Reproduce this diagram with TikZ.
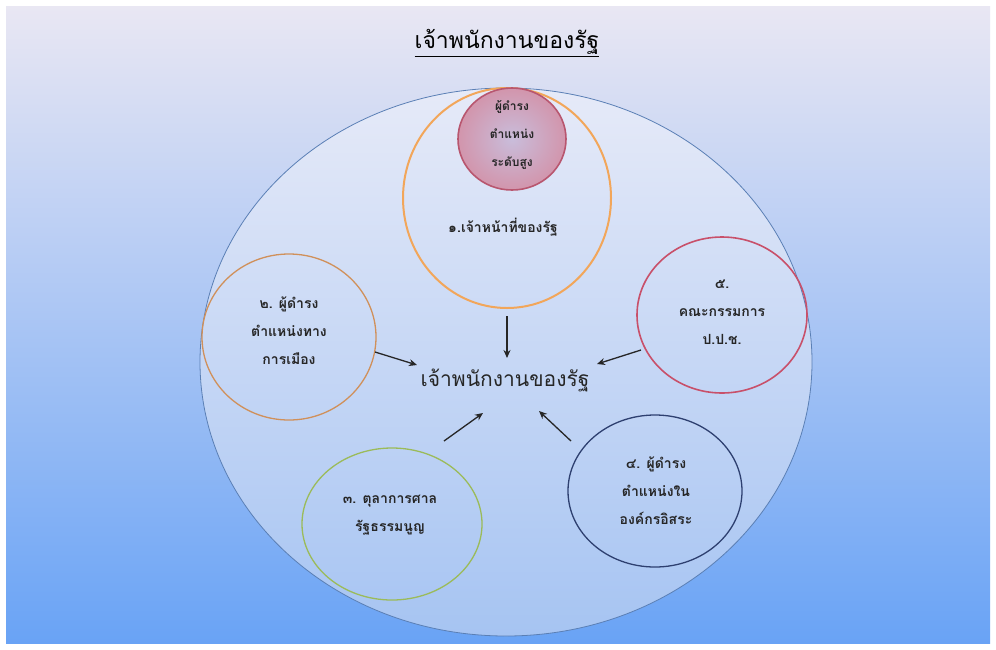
\documentclass[tikz,border=0pt]{standalone}
\usepackage{fontspec}
\newfontfamily\thai[Script=Thai]{Loma}
\usetikzlibrary{shapes.geometric,arrows.meta}
\definecolor{bgtop}{HTML}{E9E7F3}
\definecolor{bgbot}{HTML}{69A3F5}
\definecolor{eltop}{HTML}{E6EAF8}
\definecolor{elbot}{HTML}{A6C4F2}
\definecolor{elline}{HTML}{5A7FB5}
\definecolor{orangec}{HTML}{F2A65A}
\definecolor{purpin}{HTML}{C9BDDB}
\definecolor{purpout}{HTML}{D295AC}
\definecolor{purpline}{HTML}{B8566F}
\definecolor{brownc}{HTML}{D0905A}
\definecolor{redc}{HTML}{C8506A}
\definecolor{greenc}{HTML}{9BBB59}
\definecolor{navyc}{HTML}{2E4070}
\tikzset{
  circ/.style={ellipse, draw, line width=1.3pt, inner sep=0pt},
  lbl/.style={font=\thai\bfseries\fontsize{14}{28}\selectfont, align=center, text=black!85},
  arr/.style={-{Stealth[length=8pt,width=7pt]}, line width=1.3pt, black!85}
}
\begin{document}
\begin{tikzpicture}[x=1pt,y=-1pt]
\useasboundingbox (0,0) rectangle (996,649);
\fill[white] (0,0) rectangle (996,649);
\shade[top color=bgtop, bottom color=bgbot] (6,6) rectangle (990,643);
% title
\node[font=\thai\fontsize{23}{26}\selectfont] (title) at (507,43) {\underline{เจ้าพนักงานของรัฐ}};
% big ellipse
\node[ellipse, draw=elline, line width=0.8pt, top color=eltop, bottom color=elbot,
      minimum width=612pt, minimum height=548pt, inner sep=0pt] (big) at (506,362) {};
% circles
\node[circ, draw=orangec, line width=2pt, minimum width=208pt, minimum height=220pt] (orange) at (507,198) {};
\node[circ, draw=purpline, line width=1.6pt, inner color=purpin, outer color=purpout,
      minimum width=108pt, minimum height=102pt] (purple) at (512,139) {};
\node[circ, draw=brownc, minimum width=174pt, minimum height=166pt] (left) at (289,337) {};
\node[circ, draw=redc, line width=1.6pt, minimum width=170pt, minimum height=156pt] (right) at (722,315) {};
\node[circ, draw=greenc, minimum width=180pt, minimum height=152pt] (bl) at (392,524) {};
\node[circ, draw=navyc, minimum width=174pt, minimum height=152pt] (br) at (655,491) {};
% texts
\node[lbl, font=\thai\bfseries\fontsize{12}{28}\selectfont] (tpurple) at (512,135) {ผู้ดำรง\\ตำแหน่ง\\ระดับสูง};
\node[lbl] (torange) at (503,227) {๑.เจ้าหน้าที่ของรัฐ};
\node[lbl] (tleft) at (289,331) {๒. ผู้ดำรง\\ตำแหน่งทาง\\การเมือง};
\node[lbl] (tright) at (722,312) {๕.\\คณะกรรมการ\\ป.ป.ช.};
\node[lbl] (tbl) at (390,515) {๓. ตุลาการศาล\\รัฐธรรมนูญ};
\node[lbl] (tbr) at (656,491) {๔. ผู้ดำรง\\ตำแหน่งใน\\องค์กรอิสระ};
\node[font=\thai\fontsize{21}{24}\selectfont, text=black!85] (center) at (505,380) {เจ้าพนักงานของรัฐ};
% arrow ends
\coordinate (a1s) at (507,316); \coordinate (a1e) at (507,358);
\coordinate (a2s) at (375,352); \coordinate (a2e) at (417,365);
\coordinate (a3s) at (641,350); \coordinate (a3e) at (597,364);
\coordinate (a4s) at (444,441); \coordinate (a4e) at (483,413);
\coordinate (a5s) at (571,441); \coordinate (a5e) at (539,411);
\draw[arr] (a1s) -- (a1e);
\draw[arr] (a2s) -- (a2e);
\draw[arr] (a3s) -- (a3e);
\draw[arr] (a4s) -- (a4e);
\draw[arr] (a5s) -- (a5e);
\end{tikzpicture}
\end{document}
